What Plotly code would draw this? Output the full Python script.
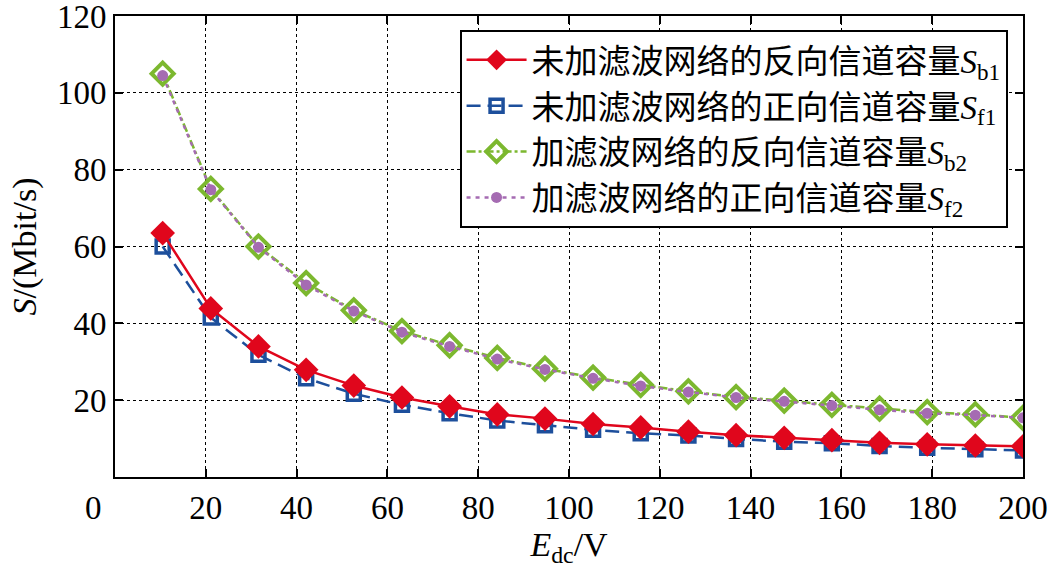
import plotly.graph_objects as go

# x positions: E_dc in V
E_dc = [10.5, 21.1, 31.6, 42.1, 52.6, 63.2, 73.7, 84.2, 94.7, 105.3,
        115.8, 126.3, 136.8, 147.4, 157.9, 168.4, 178.9, 189.5, 200.0]

S_b1 = [63.5, 43.9, 34.0, 27.9, 23.8, 20.7, 18.4, 16.3, 15.2, 13.8,
        12.9, 11.8, 10.9, 10.2, 9.6, 8.9, 8.5, 8.2, 8.0]
S_f1 = [60.0, 41.5, 31.8, 25.7, 21.7, 18.8, 16.6, 14.7, 13.5, 12.3,
        11.4, 10.8, 9.9, 9.2, 8.8, 8.1, 7.6, 7.2, 6.9]
S_b2 = [105.0, 75.0, 60.0, 50.5, 43.4, 38.0, 34.3, 31.0, 28.2, 25.9,
        24.0, 22.3, 20.8, 19.9, 18.8, 17.8, 16.9, 16.3, 15.4]
S_f2 = [104.5, 74.8, 59.8, 50.0, 43.2, 37.7, 34.0, 30.7, 28.0, 25.7,
        23.7, 22.1, 20.7, 19.7, 18.6, 17.5, 16.6, 16.1, 15.4]

names = ["未加滤波网络的反向信道容量<i>S</i><sub>b1</sub>",
         "未加滤波网络的正向信道容量<i>S</i><sub>f1</sub>",
         "加滤波网络的反向信道容量<i>S</i><sub>b2</sub>",
         "加滤波网络的正向信道容量<i>S</i><sub>f2</sub>"]

x_ticks = [0, 20, 40, 60, 80, 100, 120, 140, 160, 180, 200]
x_ticktext = ["", "20", "40", "60", "80", "100", "120", "140", "160", "180", "200"]
y_ticks = [0, 20, 40, 60, 80, 100, 120]
y_ticktext = ["", "20", "40", "60", "80", "100", "120"]

FONT = "Liberation Serif, Times New Roman, Noto Sans CJK SC, serif"

fig = go.Figure()
fig.add_trace(go.Scatter(x=E_dc, y=S_f1, name=names[1], mode="lines+markers",
                         legendrank=2,
                         line=dict(color="#1d4f9c", width=2.5, dash="14px,7px"),
                         marker=dict(symbol="square-open", size=13,
                                     line=dict(color="#1d4f9c", width=3.5))))
fig.add_trace(go.Scatter(x=E_dc, y=S_b1, name=names[0], mode="lines+markers",
                         legendrank=1,
                         line=dict(color="#e0061c", width=2.5),
                         marker=dict(symbol="diamond", size=19, color="#e0061c")))
fig.add_trace(go.Scatter(x=E_dc, y=S_b2, name=names[2], mode="lines+markers",
                         legendrank=3,
                         line=dict(color="#7cb82f", width=2.5, dash="dashdot"),
                         marker=dict(symbol="diamond-open", size=17,
                                     line=dict(color="#7cb82f", width=4))))
fig.add_trace(go.Scatter(x=E_dc, y=S_f2, name=names[3], mode="lines+markers",
                         legendrank=4,
                         line=dict(color="#a56bb2", width=2.5, dash="4px,5px"),
                         marker=dict(symbol="circle", size=11, color="#a56bb2")))

axis_common = dict(showline=True, linecolor="black", linewidth=2, mirror="ticks",
                   ticks="inside", ticklen=8, tickwidth=1.5, tickcolor="black",
                   showgrid=True, gridcolor="black", gridwidth=1.2, griddash="dot",
                   zeroline=False, ticklabeloverflow="allow", automargin=False,
                   tickfont=dict(family=FONT, size=33, color="black"))

fig.update_xaxes(range=[0, 200], tickvals=x_ticks, ticktext=x_ticktext,
                 title=dict(text="<i>E</i><sub>dc</sub>/V", font=dict(family=FONT, size=34, color="black"),
                            standoff=5),
                 **axis_common)
fig.update_yaxes(range=[0, 120.02], tickvals=y_ticks, ticktext=y_ticktext,
                 title=dict(text="<i>S</i>/(Mbit/s)", font=dict(family=FONT, size=34, color="black"),
                            standoff=10),
                 **axis_common)

fig.add_annotation(text="0", xref="paper", yref="paper", x=-0.024, y=-0.067,
                   showarrow=False, xanchor="center", yanchor="middle",
                   font=dict(family=FONT, size=33, color="black"))

fig.update_layout(
    width=1049, height=576,
    margin=dict(l=115, r=26, t=16, b=99),
    paper_bgcolor="white", plot_bgcolor="white",
    font=dict(family=FONT, size=30, color="black"),
    showlegend=True,
    legend=dict(x=0.983, y=0.97, xanchor="right", yanchor="top",
                bgcolor="white", bordercolor="black", borderwidth=2,
                font=dict(family=FONT, size=33, color="black"),
                itemwidth=60, tracegroupgap=0),
)

fig.write_html("out.html")
